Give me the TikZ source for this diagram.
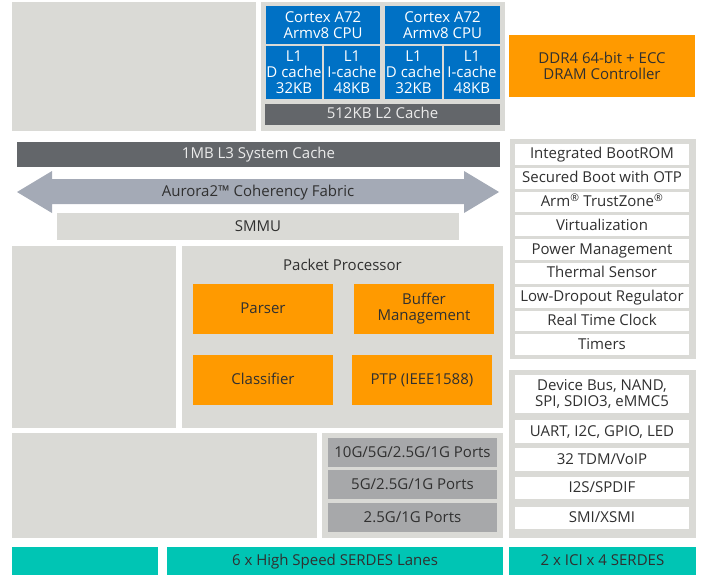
\documentclass[tikz,border=0pt]{standalone}
\usepackage{fontspec}
\setmainfont{Open Sans}

\definecolor{lgray}{HTML}{DADAD6}
\definecolor{cpublue}{HTML}{0071C5}
\definecolor{dgray}{HTML}{63666A}
\definecolor{pgray}{HTML}{A7A8AA}
\definecolor{fgray}{HTML}{A4AAB6}
\definecolor{orng}{HTML}{FF9A00}
\definecolor{teal}{HTML}{00C5B4}
\definecolor{txt}{HTML}{303030}

\begin{document}
\begin{tikzpicture}[x=1pt, y=-1pt,
    blk/.style={inner sep=0pt, align=center, text=txt, font=\fontsize{15}{16}\selectfont},
    oneline/.style={text height=10, text depth=1},
    bg/.style={blk, fill=lgray},
    cpu/.style={blk, fill=cpublue, text=white},
    cache/.style={blk, oneline, fill=dgray, text=white!92!black},
    unit/.style={blk, fill=orng},
    wbox/.style={blk, oneline, fill=white, minimum width=174, minimum height=20.8},
    port/.style={blk, oneline, fill=pgray, minimum width=169, minimum height=29},
    serdes/.style={blk, oneline, fill=teal, minimum height=28}]
    \useasboundingbox (0,0) rectangle (701,575);

    % top row
    \node[bg, minimum width=244, minimum height=129] (blank1) at (134,66.5) {};
    \node[bg, minimum width=244, minimum height=129] (cluster) at (383,66.5) {};
    \node[cpu, minimum width=114, minimum height=38] (cpuA) at (323,25) {Cortex A72\\Armv8 CPU};
    \node[cpu, minimum width=115, minimum height=38] (cpuB) at (442.5,25) {Cortex A72\\Armv8 CPU};
    \node[cpu, minimum width=56, minimum height=53] (dA) at (294,72.5) {L1\\D cache\\32KB};
    \node[cpu, minimum width=56, minimum height=53] (iA) at (352,72.5) {L1\\I-cache\\48KB};
    \node[cpu, minimum width=57, minimum height=53] (dB) at (413.5,72.5) {L1\\D cache\\32KB};
    \node[cpu, minimum width=56, minimum height=53] (iB) at (472,72.5) {L1\\I-cache\\48KB};
    \node[cache, minimum width=235, minimum height=21] (ltwo) at (382.5,114.5) {512KB L2 Cache};
    \node[unit, minimum width=186, minimum height=62] (ddr) at (602,66) {DDR4 64-bit + ECC\\DRAM Controller};

    % L3, fabric and SMMU
    \node[cache, minimum width=483, minimum height=25] (lthree) at (258.5,154) {1MB L3 System Cache};
    \fill[fgray] (17,192) -- (52,171) -- (52,179) -- (464,179) -- (464,171) -- (499,192)
                 -- (464,213) -- (464,204) -- (52,204) -- (52,213) -- cycle;
    \node[blk, oneline] (fabric) at (258,191.5) {Aurora2™ Coherency Fabric};
    \node[bg, oneline, minimum width=402, minimum height=27] (smmu) at (258,226.5) {SMMU};

    % right column, misc blocks
    \node[bg, minimum width=186, minimum height=220] (misc) at (603,249) {};
    \foreach \txt [count=\i from 0] in {Integrated BootROM, Secured Boot with OTP,
        Arm\textsuperscript{®} TrustZone\textsuperscript{®}, Virtualization, Power Management,
        Thermal Sensor, Low-Dropout Regulator, Real Time Clock, Timers}
        \node[wbox] (misc\i) at (602,{154.4+23.8*\i}) {\txt};

    % packet processor
    \node[bg, minimum width=164, minimum height=182] (blank2) at (94,337) {};
    \node[bg, minimum width=321, minimum height=182] (pp) at (342.5,337) {};
    \node[blk, oneline] (pplabel) at (342.5,266) {Packet Processor};
    \node[unit, oneline, minimum width=140, minimum height=50] (parser) at (263,309) {Parser};
    \node[unit, minimum width=140, minimum height=50] (buffer) at (424,309) {Buffer\\Management};
    \node[unit, oneline, minimum width=140, minimum height=50] (classifier) at (263,380) {Classifier};
    \node[unit, oneline, minimum width=140, minimum height=50] (ptp) at (422,380) {PTP (IEEE1588)};

    % ports
    \node[bg, minimum width=305, minimum height=105] (blank3) at (164.5,485.5) {};
    \node[bg, minimum width=181, minimum height=105] (ports) at (412.5,485.5) {};
    \node[port] (portA) at (412.5,452.5) {10G/5G/2.5G/1G Ports};
    \node[port] (portB) at (412.5,484.5) {5G/2.5G/1G Ports};
    \node[port] (portC) at (412.5,517.5) {2.5G/1G Ports};

    % right column, interfaces
    \node[bg, minimum width=187, minimum height=168] (io) at (602.5,454) {};
    \node[blk, fill=white, minimum width=174, minimum height=38] (devbus) at (602,394) {Device Bus, NAND,\\SPI, SDIO3, eMMC5};
    \node[wbox, minimum height=23] (uart) at (602,431.5) {UART, I2C, GPIO, LED};
    \node[wbox, minimum height=23] (tdm) at (602,459.5) {32 TDM/VoIP};
    \node[wbox, minimum height=22] (iis) at (602,488) {I2S/SPDIF};
    \node[wbox, minimum height=22] (smi) at (602,518) {SMI/XSMI};

    % SERDES
    \node[serdes, minimum width=146] (serdesA) at (85,561) {};
    \node[serdes, minimum width=336] (serdesB) at (335,561) {6 x High Speed SERDES Lanes};
    \node[serdes, minimum width=187] (serdesC) at (602.5,561) {2 x ICI x 4 SERDES};
\end{tikzpicture}
\end{document}
